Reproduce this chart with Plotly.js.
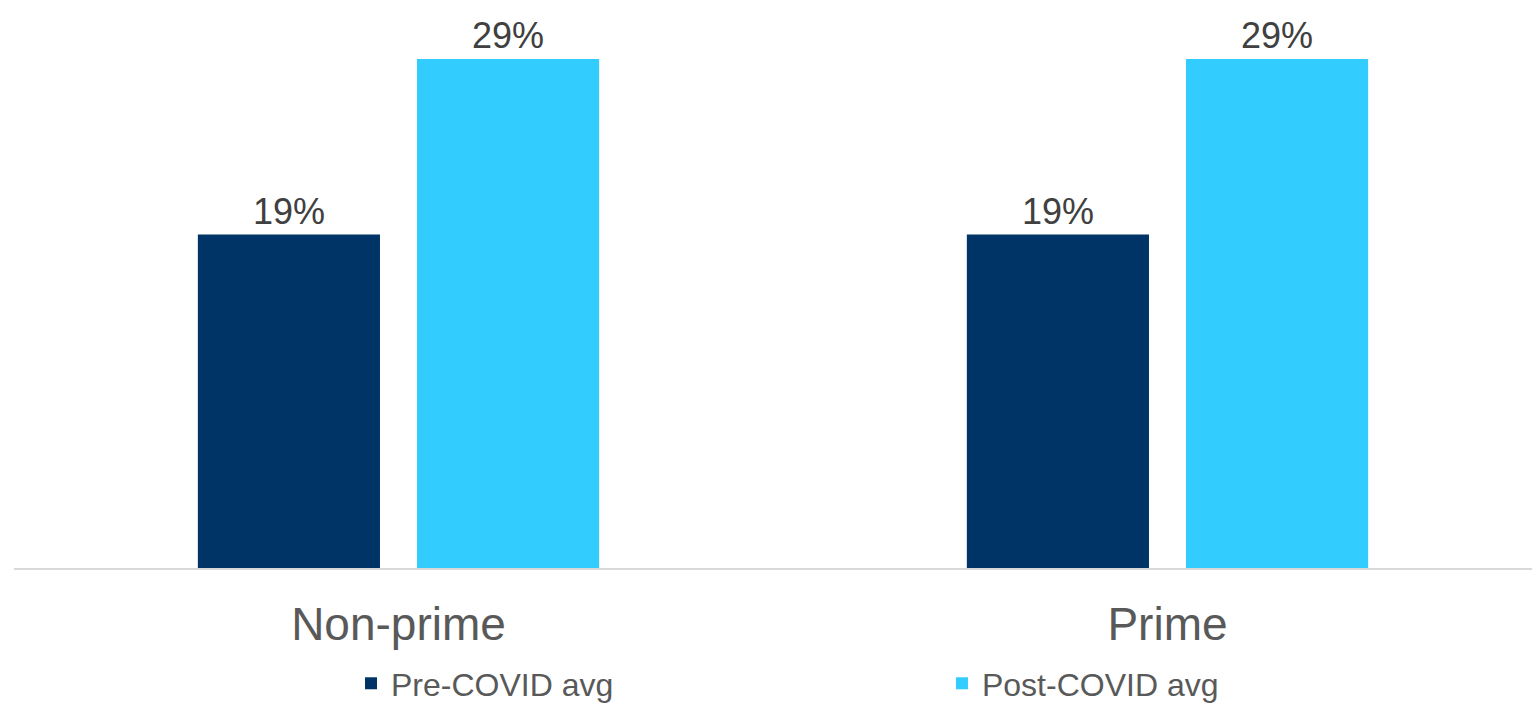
<!DOCTYPE html>
<html>
<head>
<meta charset="utf-8">
<script src="https://cdn.plot.ly/plotly-3.0.1.min.js"></script>
<style>
html,body{margin:0;padding:0;background:#fff;}
#chart{width:1532px;height:711px;}
</style>
</head>
<body>
<div id="chart"></div>
<script>
var categories = ["Non-prime", "Prime"];
var seriesNames = ["Pre-COVID avg", "Post-COVID avg"];
var preCovid = [19, 19];
var postCovid = [29, 29];

var font = "Liberation Sans, Arial, Helvetica, sans-serif";

function makeTrace(name, vals, color, legendId) {
  return {
    type: "bar",
    name: name,
    x: categories,
    y: vals,
    legend: legendId,
    marker: {color: color},
    text: vals.map(function(v){ return v + "%"; }),
    textposition: "outside",
    textfont: {family: font, size: 36, color: "#404040"},
    cliponaxis: false,
    hoverinfo: "skip"
  };
}

var data = [
  makeTrace(seriesNames[0], preCovid, "#003366", "legend"),
  makeTrace(seriesNames[1], postCovid, "#33CCFF", "legend2")
];

var legendFont = {family: font, size: 32, color: "#595959"};

var layout = {
  width: 1532,
  height: 711,
  margin: {l: 14, r: 0, t: 6, b: 143},
  paper_bgcolor: "#ffffff",
  plot_bgcolor: "#ffffff",
  barmode: "group",
  bargap: 0.43,
  bargroupgap: 0.169,
  showlegend: true,
  legend: {
    orientation: "h",
    x: 0.2220,
    xanchor: "left",
    y: -0.2544,
    yanchor: "bottom",
    font: legendFont
  },
  legend2: {
    orientation: "h",
    x: 0.6113,
    xanchor: "left",
    y: -0.2544,
    yanchor: "bottom",
    font: legendFont
  },
  xaxis: {
    type: "category",
    range: [-0.5, 1.474],
    showline: true,
    linecolor: "#d9d9d9",
    linewidth: 2,
    ticks: "",
    ticklabelstandoff: 15,
    showgrid: false,
    zeroline: false,
    tickfont: {family: font, size: 46, color: "#595959"},
    fixedrange: true
  },
  yaxis: {
    range: [0, 32.02],
    visible: false,
    showgrid: false,
    zeroline: false,
    fixedrange: true
  }
};

Plotly.newPlot("chart", data, layout, {displayModeBar: false, staticPlot: true});
</script>
</body>
</html>
